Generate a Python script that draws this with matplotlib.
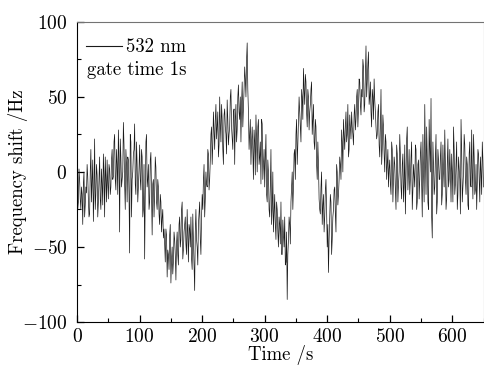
import numpy as np
import matplotlib
matplotlib.use('Agg')
import matplotlib.pyplot as plt
from matplotlib.ticker import MultipleLocator

plt.rcParams['font.family'] = 'serif'
plt.rcParams['font.serif'] = ['cmr10', 'DejaVu Serif']
plt.rcParams['mathtext.fontset'] = 'cm'
plt.rcParams['axes.formatter.use_mathtext'] = True

# frequency shift (Hz), even seconds 0, 2, ..., 650
shift_even = [
    -12, -20, -5, -25, -15, -8, -30, -10, 5, -18,
    -28, 15, -5, -33, 22, -15, -2, -20, 10, -25,
    -8, 12, -30, -5, 8, -18, 2, -10, 15, -3,
    25, -12, 5, 28, -40, 10, -5, 33, -8, 15,
    -20, 8, -54, 20, -5, 12, 32, -15, 5, -10,
    18, -12, 10, -25, -58, 20, -10, 5, -20, 13,
    -42, -5, -15, 3, -25, -10, -35, -20, -31, -44,
    -48, -38, -70, -55, -42, -74, -50, -60, -45, -72,
    -40, -62, -30, -45, -20, -52, -35, -48, -25, -60,
    -38, -30, -65, -45, -79, -25, -50, -35, -20, -55,
    -15, -5, -30, 0, -10, 12, -5, 25, 5, 40,
    15, 45, 30, 10, 50, 20, 35, 5, 42, 25,
    48, 18, 30, 55, 22, 40, 5, 45, 28, 58,
    35, 20, 60, 42, 70, 50, 86, 40, 25, 5,
    30, -5, 20, 38, 0, 35, 10, -8, 32, 5,
    -10, 25, -20, 0, -30, 15, -25, -40, -15, -45,
    -25, -50, -35, -20, -55, -42, -30, -60, -85, -45,
    -35, -20, 0, -10, 15, 25, 5, 35, 40, 20,
    50, 69, 45, 60, 30, 50, 40, 55, 25, 45,
    15, 30, -5, 5, -25, -10, -35, -15, -30, -5,
    -50, -67, -30, -20, -45, -25, -10, -40, 0, -15,
    10, -5, 20, 35, 15, 40, 25, 10, 38, 22,
    30, 18, 45, 35, 55, 42, 60, 38, 50, 70,
    45, 84, 60, 80, 50, 40, 55, 35, 48, 30,
    25, 45, 10, 55, 15, 30, 0, 20, 5, -10,
    8, -15, 15, -5, 5, -25, 12, -8, 25, -10,
    5, -20, 18, -5, 30, 0, -15, 10, -25, 5,
    -10, 15, -20, 8, -5, 20, -30, 0, 45, -15,
    10, -25, 15, 49, -44, 5, -10, 25, -20, 8,
    -5, 20, -15, 0, 28, -25, 5, -10, 15, -20,
    0, 30, -15, 5, -25, 10, -5, 35, -20, 0,
    18, -15, 5, -25, 20, -10, 0, 25, -15, 5,
    -8, 12, -20, 0, 20, -10,
]
# odd seconds 1, 3, ..., 649
shift_odd = [
    -25, 2, -18, -10, -35, 0, -22, -14, -3, -30,
    0, -20, 8, -12, -25, 5, -30, -5, -18, 2,
    -22, -2, 10, -20, -8, 5, -15, 8, -5, 20,
    -5, 15, -15, 8, 22, -10, 0, 18, -25, 5,
    10, -15, 25, -30, 0, 15, -8, 20, -20, 2,
    -5, 15, -30, 5, -15, 25, -5, -25, 8, -15,
    -8, -30, 10, -20, -5, -28, -15, -40, -25, -38,
    -60, -42, -52, -65, -35, -58, -68, -40, -55, -48,
    -55, -35, -50, -25, -58, -40, -30, -55, -42, -35,
    -50, -58, -28, -60, -40, -45, -62, -28, -45, -30,
    -25, 5, -18, -8, 15, -12, 8, 30, 18, 28,
    35, 22, 40, 18, 32, 45, 15, 38, 30, 12,
    35, 25, 50, 30, 15, 42, 35, 20, 50, 40,
    50, 45, 30, 55, 62, 75, 55, 15, 35, 20,
    15, 28, -2, 22, 30, 5, 20, 35, -5, 15,
    10, -15, 8, -25, -10, -35, 0, -28, -35, -20,
    -40, -30, -48, -55, -32, -50, -62, -40, -55, -30,
    -48, -10, -25, 12, -5, 35, 18, 50, 30, 55,
    35, 55, 65, 40, 55, 28, 45, 60, 35, 20,
    35, 5, 20, -18, -28, 0, -22, -40, -12, -25,
    -35, -45, -15, -55, -30, -12, -28, 5, -22, -5,
    5, 28, 0, 25, 30, 20, 45, 15, 30, 40,
    25, 38, 28, 50, 30, 62, 45, 55, 75, 40,
    65, 50, 72, 45, 60, 30, 50, 62, 40, 22,
    40, 18, 30, 5, 38, 12, 25, -5, 15, 2,
    -8, 20, -20, 10, -12, 18, -20, 0, 12, -18,
    12, -8, -28, 22, -12, 15, -5, 20, -12, -2,
    18, -25, 5, -18, 12, -8, 25, -20, 10, 30,
    -20, 35, 0, -30, 20, -15, 10, -28, 15, -5,
    10, -22, 18, -10, 5, -18, 22, -5, 0, 12,
    -20, 15, -8, 20, -15, 2, -28, 15, -10, 25,
    -5, 10, -22, 12, -8, 28, -18, 10, -12, -25,
    15, -5, 10, -15, 8,
]

time = np.arange(651)
shift = np.empty(651)
shift[0::2] = shift_even
shift[1::2] = shift_odd

fig = plt.figure(figsize=(4.85, 3.71), dpi=100)
ax = fig.add_axes([0.159, 0.132, 0.838, 0.809])

ax.plot(time, shift, color='0.1', lw=0.5, label='532 nm')

ax.set_xlim(0, 650)
ax.set_ylim(-100, 100)
ax.xaxis.set_major_locator(MultipleLocator(100))
ax.xaxis.set_minor_locator(MultipleLocator(50))
ax.yaxis.set_major_locator(MultipleLocator(50))
ax.yaxis.set_minor_locator(MultipleLocator(25))
ax.tick_params(which='both', direction='in', top=False, right=False, labelsize=14)
ax.tick_params(axis='x', pad=4)
ax.tick_params(axis='y', pad=7)
ax.tick_params(which='major', length=5, width=0.9)
ax.tick_params(which='minor', length=3, width=0.8)
for s in ['top', 'right']:
    ax.spines[s].set_color('0.45')
    ax.spines[s].set_linewidth(0.8)

ax.set_xlabel('Time /s', fontsize=13.5)
ax.set_ylabel('Frequency shift /Hz', fontsize=13.5)
ax.xaxis.set_label_coords(0.5, -0.078)
ax.yaxis.set_label_coords(-0.12, 0.5)

leg = ax.legend(loc='upper left', bbox_to_anchor=(0.0, 0.977), frameon=False, fontsize=13.5,
                handlelength=1.9, handletextpad=0.2, borderaxespad=0.2, borderpad=0.3)
for line in leg.get_lines():
    line.set_linewidth(0.8)
ax.text(0.024, 0.84, 'gate time 1s', transform=ax.transAxes, fontsize=13.5, va='center')

fig.savefig('out.png', dpi=100)
